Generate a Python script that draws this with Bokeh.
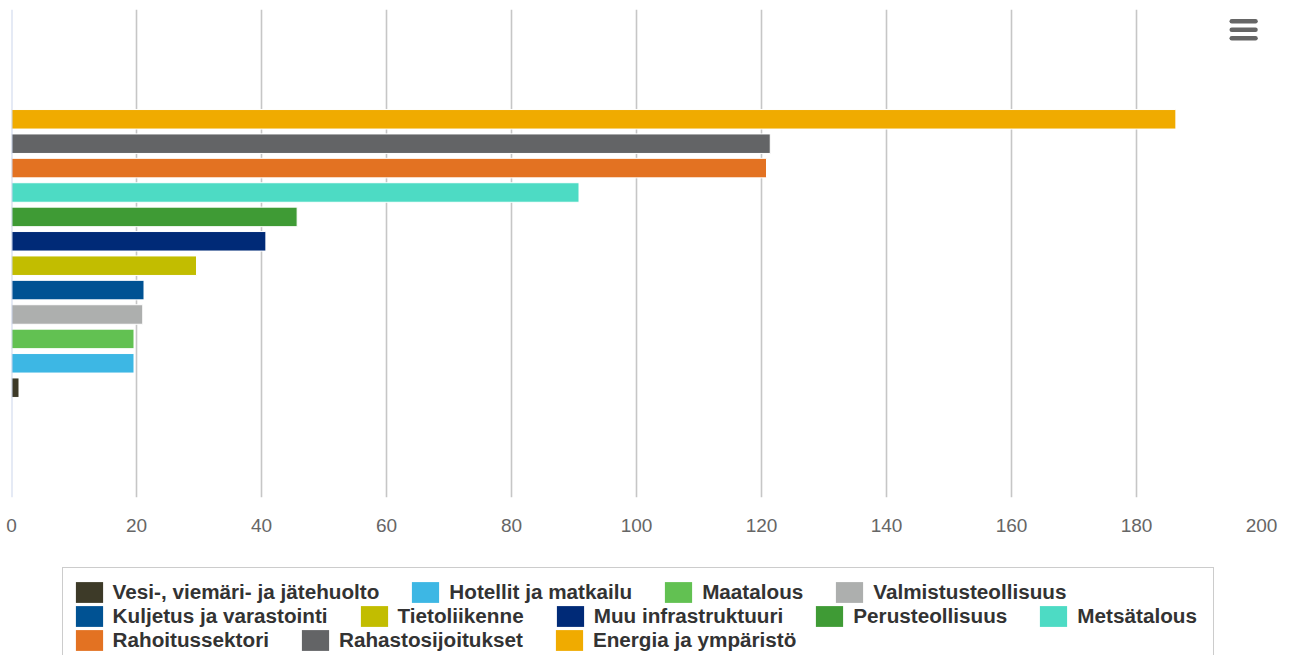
from bokeh.plotting import figure
from bokeh.layouts import column
from bokeh.models import (ColumnDataSource, Range1d, FixedTicker, Legend, LegendItem, Span)
from bokeh.embed import file_html
from bokeh.resources import INLINE

# ---- data ----
sectors = [
    "Vesi-, viemäri- ja jätehuolto",
    "Hotellit ja matkailu",
    "Maatalous",
    "Valmistusteollisuus",
    "Kuljetus ja varastointi",
    "Tietoliikenne",
    "Muu infrastruktuuri",
    "Perusteollisuus",
    "Metsätalous",
    "Rahoitussektori",
    "Rahastosijoitukset",
    "Energia ja ympäristö",
]
values = [1.2, 19.6, 19.6, 21.0, 21.2, 29.6, 40.7, 45.7, 90.8, 120.8, 121.4, 186.3]
colors = ["#3d3a28", "#3db7e4", "#62c152", "#adafae", "#005293", "#c2bd00",
          "#002a77", "#3f9b35", "#4ddbc4", "#e37222", "#636466", "#f0ab00"]
x_ticks = [0, 20, 40, 60, 80, 100, 120, 140, 160, 180, 200]

# legend rows (layout only)
legend_rows = [4, 5, 3]

FONT = "Liberation Sans"
W = 1291

p = figure(width=W, height=560, output_backend="svg", toolbar_location=None,
           x_range=Range1d(0, 200), y_range=Range1d(-4.5, 15.5),
           y_axis_location=None,
           min_border_left=11, min_border_right=30, min_border_top=9, min_border_bottom=63)
p.outline_line_color = None
p.background_fill_color = "white"
p.border_fill_color = "white"

# grid
p.ygrid.visible = False
p.xgrid.grid_line_color = "#c6c6c6"
p.xgrid.grid_line_width = 1.6
p.xgrid.ticker = FixedTicker(ticks=x_ticks)

# x axis
p.xaxis.ticker = FixedTicker(ticks=x_ticks)
p.xaxis.axis_line_color = None
p.xaxis.major_tick_line_color = None
p.xaxis.minor_tick_line_color = None
p.xaxis.major_tick_out = 0
p.xaxis.major_tick_in = 0
p.xaxis.major_label_standoff = 21
p.xaxis.major_label_text_font = FONT
p.xaxis.major_label_text_font_size = "19px"
p.xaxis.major_label_text_color = "#666666"

# bars: one series per sector, bottom (index 0) to top
for i, (name, v, c) in enumerate(zip(sectors, values, colors)):
    src = ColumnDataSource(dict(y=[i], right=[v]))
    p.hbar(y="y", right="right", left=0, height=0.8, source=src,
           fill_color=c, line_color="white", line_width=1)

# category axis line
p.add_layout(Span(location=0, dimension="height", line_color="#ccd6eb", line_width=2))

# menu icon
p.segment(x0=[195.24] * 3, x1=[199.04] * 3, y0=[15.02, 14.67, 14.32], y1=[15.02, 14.67, 14.32],
          line_color="#666666", line_width=4.5, line_cap="round")

# ---- legend figure ----
LH = 95
q = figure(width=W, height=LH, output_backend="svg", toolbar_location=None,
           x_range=Range1d(0, W), y_range=Range1d(0, LH),
           x_axis_location=None, y_axis_location=None,
           min_border_left=0, min_border_right=0, min_border_top=0, min_border_bottom=0)
q.outline_line_color = None
q.xgrid.visible = False
q.ygrid.visible = False
q.background_fill_color = "white"
q.border_fill_color = "white"

# swatch renderers for the legend (kept outside the visible range)
swatches = [q.hbar(y=[-1000], right=[0], left=0, height=1, fill_color=c, line_color=None)
            for c in colors]

OFF = 12.0
row_y = [50.4, 26.4, 2.4]
start = 0
for k, cnt in enumerate(legend_rows):
    items = [LegendItem(label=sectors[j], renderers=[swatches[j]])
             for j in range(start, start + cnt)]
    start += cnt
    lg = Legend(items=items, orientation="horizontal", location=(72.6 - OFF, row_y[k]),
                border_line_color=None, background_fill_alpha=0, padding=0, margin=0,
                spacing=29, label_standoff=7, glyph_width=34, glyph_height=26,
                label_height=20, label_text_font=FONT, label_text_font_size="20.7px",
                label_text_font_style="bold", label_text_color="#333333")
    q.add_layout(lg, "center")

# legend frame
dummy = q.hbar(y=[-1000], right=[0], left=0, height=1, fill_alpha=0, line_alpha=0)
frame_lg = Legend(items=[LegendItem(label=" ", renderers=[dummy])], location=(62.7 - OFF, -20),
                  border_line_color="#999999", border_line_width=1,
                  background_fill_alpha=0, padding=0, margin=0,
                  glyph_width=1, glyph_height=1, label_standoff=0,
                  label_width=1149, label_height=106, label_text_font_size="1px")
q.add_layout(frame_lg, "center")

open("out.html", "w").write(file_html(column(p, q, spacing=0), INLINE))
